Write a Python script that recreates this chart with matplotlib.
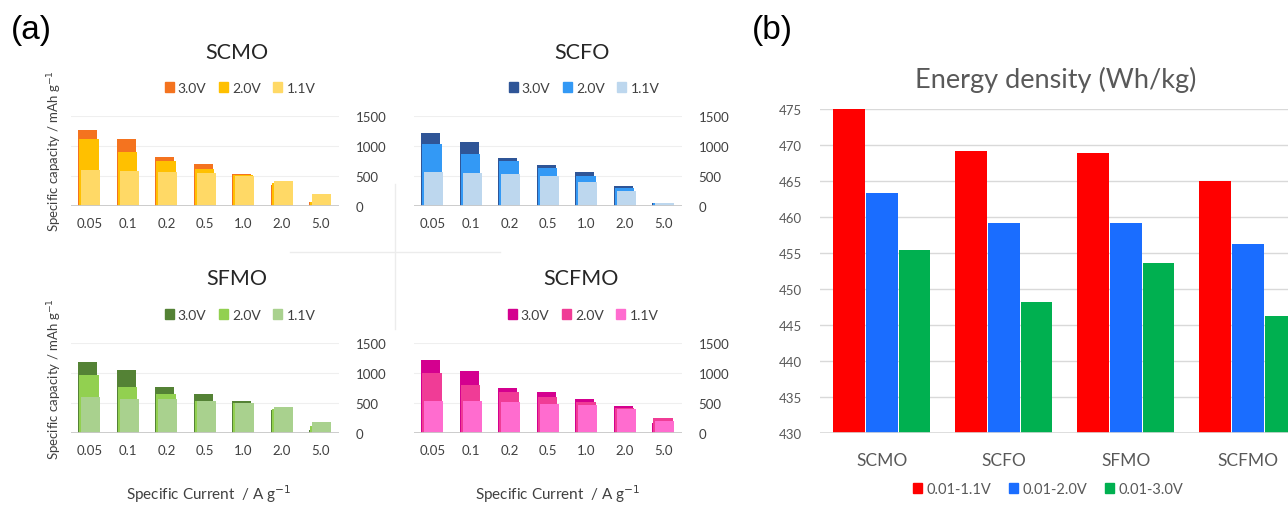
import numpy as np
import matplotlib
matplotlib.use("Agg")
import matplotlib.pyplot as plt
from matplotlib.patches import Patch
from matplotlib.lines import Line2D

# rate capability: capacity (mAh/g) at each specific current, per voltage window
currents = ['0.05', '0.1', '0.2', '0.5', '1.0', '2.0', '5.0']

scmo_3v = [1260, 1115, 815, 695, 535, 355, 70]
scmo_2v = [1115, 905, 745, 615, 520, 380, 60]
scmo_1v = [595, 585, 565, 555, 505, 420, 205]

scfo_3v = [1220, 1060, 795, 690, 560, 335, 50]
scfo_2v = [1030, 865, 745, 640, 500, 305, 45]
scfo_1v = [565, 550, 530, 495, 405, 245, 45]

sfmo_3v = [1180, 1055, 770, 645, 535, 380, 45]
sfmo_2v = [975, 770, 645, 540, 505, 400, 110]
sfmo_1v = [595, 575, 560, 540, 500, 435, 180]

scfmo_3v = [1215, 1030, 755, 680, 575, 445, 160]
scfmo_2v = [1005, 805, 685, 595, 515, 415, 250]
scfmo_1v = [540, 535, 520, 485, 475, 395, 200]

window_labels = ['3.0V', '2.0V', '1.1V']

# energy density (Wh/kg) per material
materials = ['SCMO', 'SCFO', 'SFMO', 'SCFMO']
ed_11 = [475.0, 469.2, 468.9, 465.0]
ed_20 = [463.3, 459.1, 459.2, 456.3]
ed_30 = [455.4, 448.2, 453.6, 446.2]
ed_labels = ['0.01-1.1V', '0.01-2.0V', '0.01-3.0V']

W, H = 1288, 506
FONT = 'Lato'
TXT = '#404040'
GRAY = '#595959'


def px_axes(fig, x0, y0, x1, y1):
    # axes from pixel box (top-left origin)
    return fig.add_axes([x0 / W, (H - y1) / H, (x1 - x0) / W, (y1 - y0) / H])


def fig_text(fig, x, y, s, **kw):
    fig.text(x / W, (H - y) / H, s, **kw)


def capacity_panel(fig, box, title, title_xy, leg_xy, series, colors):
    ax = px_axes(fig, *box)
    x = np.arange(len(currents))
    shifts = [-0.045, -0.015, 0.03]
    for vals, col, dx in zip(series, colors, shifts):
        ax.bar(x + dx, vals, width=0.5, color=col, zorder=2)
    ax.set_xlim(-0.48, 6.48)
    ax.set_ylim(0, 1500)
    ax.set_yticks([0, 500, 1000, 1500])
    ax.yaxis.tick_right()
    ax.set_xticks(x)
    ax.set_xticklabels(currents)
    ax.tick_params(length=0, labelsize=9.5, labelcolor=TXT)
    ax.tick_params(axis='x', pad=8)
    ax.tick_params(axis='y', pad=12)
    for lab in ax.get_xticklabels() + ax.get_yticklabels():
        lab.set_fontfamily(FONT)
    ax.grid(axis='y', color='#efefef', lw=0.8, zorder=0)
    for s in ax.spines.values():
        s.set_visible(False)
    ax.axhline(0, color='#c8c8c8', lw=2, zorder=3)

    fig_text(fig, title_xy[0], title_xy[1], title, ha='center',
             va='center', fontsize=15.5, color='#262626', family=FONT)
    handles = [Patch(color=c) for c in colors]
    fig.legend(handles, window_labels, ncol=3, frameon=False,
               loc='center',
               bbox_to_anchor=(leg_xy[0] / W, (H - leg_xy[1]) / H),
               prop={'family': FONT, 'size': 10},
               handlelength=0.65, handleheight=0.65, handletextpad=0.3,
               columnspacing=0.9, labelcolor=TXT)
    return ax


def main():
    fig = plt.figure(figsize=(W / 100, H / 100), dpi=100)

    capacity_panel(fig, (71, 117, 339, 207), 'SCMO', (237, 53), (240, 89),
                   [scmo_3v, scmo_2v, scmo_1v],
                   ['#F4731F', '#FFC000', '#FFD966'])
    capacity_panel(fig, (414, 117, 682, 207), 'SCFO', (582, 53), (584, 89),
                   [scfo_3v, scfo_2v, scfo_1v],
                   ['#2F5597', '#3399F5', '#BDD7EE'])
    capacity_panel(fig, (71, 344, 339, 434), 'SFMO', (237, 279), (240, 316),
                   [sfmo_3v, sfmo_2v, sfmo_1v],
                   ['#548235', '#92D050', '#A9D18E'])
    capacity_panel(fig, (414, 344, 682, 434), 'SCFMO', (581, 279),
                   (583, 316),
                   [scfmo_3v, scfmo_2v, scfmo_1v],
                   ['#D4008F', '#F03C96', '#FF6CCF'])

    # shared axis titles
    ylab = 'Specific capacity / mAh g$^{-1}$'
    fig_text(fig, 55, 151, ylab, rotation=90, ha='center', va='center',
             fontsize=9.5, color=TXT, family=FONT)
    fig_text(fig, 55, 379, ylab, rotation=90, ha='center', va='center',
             fontsize=9.5, color=TXT, family=FONT)
    xlab = 'Specific Current  / A g$^{-1}$'
    fig_text(fig, 209, 494, xlab, ha='center', va='center',
             fontsize=11, color=TXT, family=FONT)
    fig_text(fig, 558, 494, xlab, ha='center', va='center',
             fontsize=11, color=TXT, family=FONT)

    # faint divider cross between the four charts
    fig.add_artist(Line2D([290 / W, 500 / W], [(H - 253) / H] * 2,
                          color='#ececec', lw=1))
    fig.add_artist(Line2D([395 / W] * 2, [(H - 185) / H, (H - 330) / H],
                          color='#ececec', lw=1))

    # energy density bars
    ax = px_axes(fig, 820, 110, 1309, 434)
    x = np.arange(len(materials))
    step, bw = 0.27, 0.255
    bar_cols = ['#FF0000', '#1A6DFF', '#00B050']
    for i, (vals, col) in enumerate(zip([ed_11, ed_20, ed_30], bar_cols)):
        ax.bar(x + (i - 1) * step, vals, width=bw, color=col,
               label=ed_labels[i], zorder=2)
    ax.set_xlim(-0.508, 3.5)
    ax.set_ylim(430, 475)
    ax.set_yticks(np.arange(430, 476, 5))
    ax.set_xticks(x)
    ax.set_xticklabels(materials)
    ax.tick_params(length=0, colors=GRAY)
    ax.tick_params(axis='y', labelsize=9.5, pad=13)
    ax.tick_params(axis='x', labelsize=12.5, pad=14)
    for lab in ax.get_xticklabels() + ax.get_yticklabels():
        lab.set_fontfamily(FONT)
    ax.grid(axis='y', color='#d9d9d9', lw=1, zorder=0)
    for s in ax.spines.values():
        s.set_visible(False)
    ax.axhline(430, color='#d9d9d9', lw=1.2, zorder=3)

    fig_text(fig, 1056, 80, 'Energy density (Wh/kg)', ha='center',
             va='center', fontsize=19.5, color=GRAY, family=FONT)
    handles = [Patch(color=c) for c in bar_cols]
    fig.legend(handles, ed_labels, ncol=3, frameon=False, loc='center',
               bbox_to_anchor=(1048 / W, (H - 490) / H),
               prop={'family': FONT, 'size': 10.5},
               handlelength=0.65, handleheight=0.65, handletextpad=0.3,
               columnspacing=1.2, labelcolor=GRAY)

    fig_text(fig, 31, 30, '(a)', ha='center', va='center', fontsize=24,
             color='black', family='Liberation Sans')
    fig_text(fig, 772, 30, '(b)', ha='center', va='center', fontsize=24,
             color='black', family='Liberation Sans')

    fig.savefig('out.png', dpi=100, facecolor='white')


if __name__ == "__main__":
    main()
